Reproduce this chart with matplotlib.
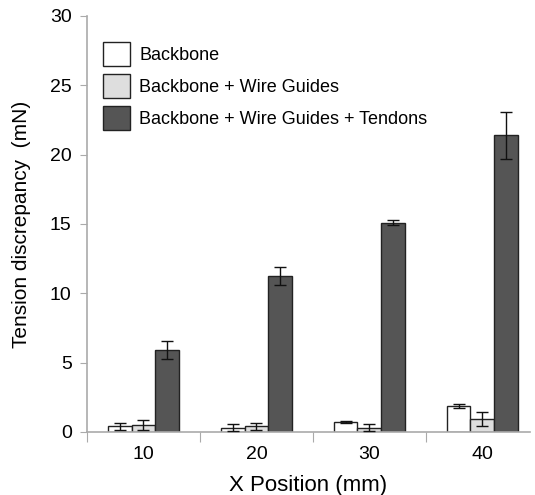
import numpy as np
import matplotlib.pyplot as plt
from matplotlib.patches import Patch

plt.rcParams['font.family'] = ['Liberation Sans', 'DejaVu Sans']

# Datos
posiciones = ['10', '20', '30', '40']
series = ['Backbone', 'Backbone + Wire Guides', 'Backbone + Wire Guides + Tendons']
backbone = [0.4, 0.3, 0.7, 1.9]
backbone_err = [0.25, 0.25, 0.08, 0.15]
guias = [0.5, 0.4, 0.3, 0.95]
guias_err = [0.35, 0.25, 0.25, 0.5]
tendones = [5.9, 11.25, 15.1, 21.4]
tendones_err = [0.66, 0.65, 0.2, 1.7]

colores = ['white', '#dedede', '#555555']
valores = [backbone, guias, tendones]
errores = [backbone_err, guias_err, tendones_err]

fig = plt.figure(figsize=(5.35, 4.95), dpi=100)
ax = fig.add_axes([0.1626, 0.1273, 0.8274, 0.8404])

x = np.arange(len(posiciones))
w = 0.21
for k in range(3):
    ax.bar(x + (k - 1) * w, valores[k], w, color=colores[k],
           edgecolor='#222222', linewidth=1.0, zorder=2)
    ax.errorbar(x + (k - 1) * w, valores[k], yerr=errores[k], fmt='none',
                ecolor='#111111', elinewidth=1.0, capsize=4, capthick=1.0, zorder=3)

ax.set_xlim(-0.5, 3.42)
ax.set_ylim(0, 30)
ax.set_yticks([0, 5, 10, 15, 20, 25, 30])

# ticks en los limites de categoria, etiquetas al centro
ax.set_xticks(np.arange(len(posiciones)) - 0.5)
ax.set_xticklabels([])
ax.set_xticks(x, minor=True)
ax.set_xticklabels(posiciones, minor=True)
ax.tick_params(axis='x', which='major', length=7, color='#aaaaaa')
ax.tick_params(axis='x', which='minor', length=0, labelsize=14, pad=10)
ax.tick_params(axis='y', length=5, color='#aaaaaa', labelsize=14, pad=6)

for s in ['top', 'right']:
    ax.spines[s].set_visible(False)
for s in ['left', 'bottom']:
    ax.spines[s].set_color('#aaaaaa')
    ax.spines[s].set_linewidth(1.2)

ax.set_xlabel('X Position (mm)', fontsize=16, labelpad=9)
ax.set_ylabel('Tension discrepancy  (mN)', fontsize=15, labelpad=14)

handles = [Patch(facecolor=c, edgecolor='#222222', linewidth=1.0) for c in colores]
ax.legend(handles, series, loc='upper left', bbox_to_anchor=(0.02, 0.955),
          frameon=False, fontsize=13, handlelength=1.5, handleheight=1.67,
          labelspacing=0.44, handletextpad=0.5, borderaxespad=0)

fig.savefig('out.png', dpi=100)
